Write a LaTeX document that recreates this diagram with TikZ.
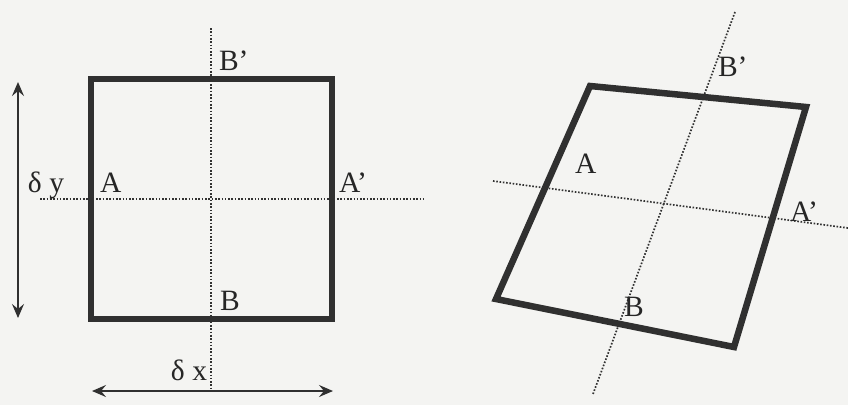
\documentclass[tikz,border=0pt]{standalone}
\usepackage{fontspec}
\setmainfont{Liberation Serif}
\usetikzlibrary{arrows.meta}
\definecolor{paper}{RGB}{244,244,242}
\definecolor{ink}{RGB}{48,48,48}
\definecolor{textink}{RGB}{38,38,38}
\definecolor{dotink}{RGB}{50,50,50}
\tikzset{
  frame/.style={draw=ink, line width=6.5pt, line join=miter},
  axisdots/.style={draw=dotink, line width=1.7pt, dash pattern=on 1.6pt off 1.7pt},
  dimarrow/.style={draw=ink, line width=1.6pt, {Stealth[length=14pt,width=12pt,inset=5pt]}-{Stealth[length=14pt,width=12pt,inset=5pt]}},
  lbl/.style={inner sep=0pt, outer sep=0pt, text=textink, font=\fontsize{29.5}{29.5}\selectfont},
}
\begin{document}
\begin{tikzpicture}[x=1pt, y=-1pt]
  \fill[paper] (0,0) rectangle (848,405);
  \useasboundingbox (0,0) rectangle (848,405);

  % ---------- left figure ----------
  \coordinate (L1) at (91,79);
  \coordinate (L2) at (332,79);
  \coordinate (L3) at (332,319);
  \coordinate (L4) at (91,319);
  \coordinate (LHa) at (40,199);
  \coordinate (LHb) at (423,199);
  \coordinate (LVa) at (211,28);
  \coordinate (LVb) at (211,390);
  \coordinate (DYa) at (18,82);
  \coordinate (DYb) at (18,318);
  \coordinate (DXa) at (92,391);
  \coordinate (DXb) at (333,391);

  \draw[axisdots] (LHa) -- (LHb);
  \draw[axisdots] (LVa) -- (LVb);
  \draw[frame] (L1) -- (L2) -- (L3) -- (L4) -- cycle;
  \draw[dimarrow] (DYa) -- (DYb);
  \draw[dimarrow] (DXa) -- (DXb);

  \node[lbl, anchor=base] (dy) at (46,192) {δ y};
  \node[lbl, anchor=base] (dx) at (189,380) {δ x};
  \node[lbl, anchor=base west] (lA) at (100,192) {A};
  \node[lbl, anchor=base west] (lAp) at (339,192) {A’};
  \node[lbl, anchor=base west] (lBp) at (219,70) {B’};
  \node[lbl, anchor=base west] (lB) at (220,310) {B};

  % ---------- right figure ----------
  \coordinate (R1) at (590,86);
  \coordinate (R2) at (806,107);
  \coordinate (R3) at (734,347);
  \coordinate (R4) at (496,299);
  \coordinate (RHa) at (493,181);
  \coordinate (RHb) at (848,228);
  \coordinate (RVa) at (735,12);
  \coordinate (RVb) at (593,394);

  \draw[axisdots] (RHa) -- (RHb);
  \draw[axisdots] (RVa) -- (RVb);
  \draw[frame] (R1) -- (R2) -- (R3) -- (R4) -- cycle;

  \node[lbl, anchor=base west] (rA) at (575,173) {A};
  \node[lbl, anchor=base west] (rAp) at (790,221) {A’};
  \node[lbl, anchor=base west] (rBp) at (718,76) {B’};
  \node[lbl, anchor=base west] (rB) at (624,316) {B};
\end{tikzpicture}
\end{document}
